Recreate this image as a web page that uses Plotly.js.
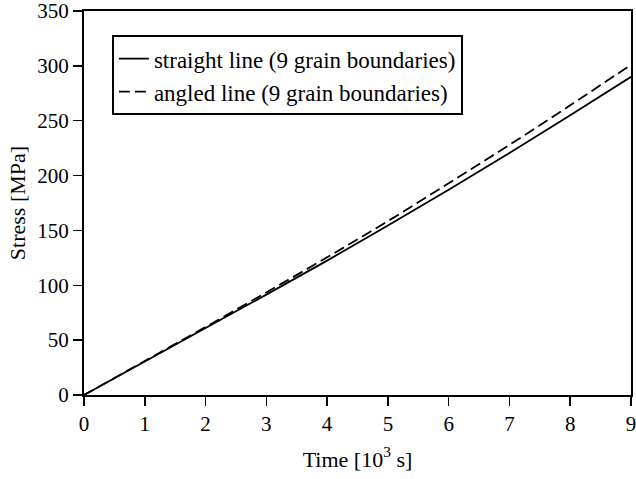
<!DOCTYPE html>
<html>
<head>
<meta charset="utf-8">
<script src="https://cdn.plot.ly/plotly-3.0.1.min.js"></script>
<style>html,body{margin:0;padding:0;background:#fff;}#chart{width:636px;height:479px;}</style>
</head>
<body>
<div id="chart"></div>
<script>
const time = [0, 1, 2, 3, 4, 5, 6, 7, 8, 9];
const straightStress = [0, 30.5, 61, 91.5, 122.5, 154.5, 187, 220.5, 255, 290];
const angledStress = [0, 31, 62, 93.5, 125.5, 158.5, 193, 228, 264, 301];
const seriesNames = ['straight line (9 grain boundaries)', 'angled line (9 grain boundaries)'];
const xTicks = [0, 1, 2, 3, 4, 5, 6, 7, 8, 9];
const yTicks = [0, 50, 100, 150, 200, 250, 300, 350];

const fam = '"Liberation Serif", "Times New Roman", serif';

const traces = [
  {x: time, y: straightStress, name: seriesNames[0], type: 'scatter', mode: 'lines',
   line: {color: '#000', width: 1.8, shape: 'spline'}},
  {x: time, y: angledStress, name: seriesNames[1], type: 'scatter', mode: 'lines',
   line: {color: '#000', width: 1.8, dash: '11px,5px', shape: 'spline'}}
];

const layout = {
  width: 636, height: 479,
  margin: {l: 84, r: 5, t: 11, b: 84},
  paper_bgcolor: '#fff', plot_bgcolor: '#fff',
  font: {family: fam, color: '#000', size: 22},
  showlegend: true,
  legend: {x: 0.051, y: 0.937, xanchor: 'left', yanchor: 'top',
    bordercolor: '#000', borderwidth: 2, bgcolor: '#fff',
    font: {family: fam, size: 23, color: '#000'},
    tracegroupgap: 0, itemwidth: 30},
  xaxis: {range: [0, 9], tickvals: xTicks, ticktext: xTicks.map(String),
    ticks: 'outside', ticklen: 9, tickwidth: 1.5, tickcolor: '#000',
    ticklabeloverflow: 'allow',
    showline: true, linewidth: 2, linecolor: '#000', mirror: true,
    showgrid: false, zeroline: false,
    tickfont: {family: fam, size: 21, color: '#000'},
    title: {text: 'Time [10<sup>3</sup> s]', standoff: 16, font: {family: fam, size: 22, color: '#000'}}},
  yaxis: {range: [0, 350], tickvals: yTicks, ticktext: yTicks.map(String),
    ticks: 'outside', ticklen: 9, tickwidth: 1.5, tickcolor: '#000',
    ticklabeloverflow: 'allow',
    showline: true, linewidth: 2, linecolor: '#000', mirror: true,
    showgrid: false, zeroline: false,
    tickfont: {family: fam, size: 21, color: '#000'},
    title: {text: 'Stress [MPa]', standoff: 6, font: {family: fam, size: 22, color: '#000'}}}
};

Plotly.newPlot('chart', traces, layout, {displayModeBar: false, staticPlot: true});
</script>
</body>
</html>
